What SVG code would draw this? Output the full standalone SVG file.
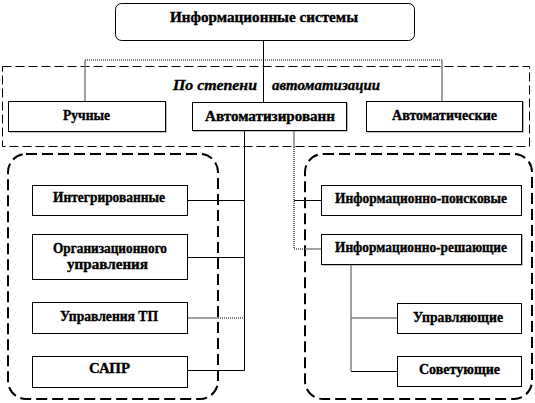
<svg xmlns="http://www.w3.org/2000/svg" width="535" height="403" viewBox="0 0 535 403">
<style>
  .t { font-family: "Liberation Serif", "DejaVu Serif", serif; font-weight: bold; font-size: 14px; fill: #000; stroke: #000; stroke-width: 0.35; }
  .ti { font-style: italic; }
  .box { fill: #fff; stroke: #000; stroke-width: 1; }
  .sh { fill: none; stroke: #888; stroke-width: 1.2; }
  .ln { fill: none; stroke: #000; stroke-width: 1; }
  .gl { fill: none; stroke: #808080; stroke-width: 1.5; }
  .dl { fill: none; stroke: #000; stroke-width: 1.2; stroke-dasharray: 1 1; }
  .grp { fill: none; stroke: #000; stroke-width: 1; stroke-dasharray: 9 4; }
  .rgrp { fill: none; stroke: #000; stroke-width: 2; stroke-dasharray: 11 5; }
</style>
<rect width="535" height="403" fill="#fff"/>

<g id="groups">
  <rect x="2.5" y="66.5" width="527" height="80" class="grp"/>
  <rect x="8" y="154" width="210" height="245" rx="18" class="rgrp"/>
  <rect x="305" y="154" width="227" height="245" rx="18" class="rgrp"/>
  <text class="t ti" x="173" y="90" textLength="84" lengthAdjust="spacingAndGlyphs">По степени</text>
  <text class="t ti" x="272" y="90" textLength="108" lengthAdjust="spacingAndGlyphs">автоматизации</text>
</g>

<g id="connectors">
  <line x1="263.5" y1="40" x2="263.5" y2="102" class="ln"/>
  <line x1="85" y1="60" x2="442" y2="60" class="dl"/>
  <line x1="85" y1="60" x2="85" y2="101" class="gl"/>
  <line x1="442" y1="60" x2="442" y2="102" class="gl"/>
  <line x1="244.5" y1="130" x2="244.5" y2="370.5" class="ln"/>
  <line x1="187" y1="200.5" x2="244.5" y2="200.5" class="ln"/>
  <line x1="187" y1="257.5" x2="244.5" y2="257.5" class="ln"/>
  <line x1="187" y1="318" x2="218" y2="318" class="gl"/>
  <line x1="218" y1="318" x2="244.5" y2="318" class="dl"/>
  <line x1="187" y1="370.5" x2="244.5" y2="370.5" class="ln"/>
  <line x1="294" y1="130" x2="294" y2="147" class="gl"/>
  <line x1="294" y1="147" x2="294" y2="249" class="dl"/>
  <line x1="294" y1="249" x2="305" y2="249" class="dl"/>
  <line x1="305" y1="249" x2="321" y2="249" class="gl"/>
  <line x1="294" y1="200.5" x2="321" y2="200.5" class="ln"/>
  <line x1="351" y1="264" x2="351" y2="371" class="gl"/>
  <line x1="351" y1="318" x2="397" y2="318" class="gl"/>
  <line x1="351" y1="371.5" x2="397" y2="371.5" class="ln"/>
</g>

<g id="n-root">
  <rect x="115.5" y="3.5" width="299" height="37" rx="6" class="box"/>
  <text class="t" x="170" y="22" textLength="188" lengthAdjust="spacingAndGlyphs">Информационные системы</text>
</g>

<g id="n-manual">
  <path d="M9 132 H166 V102" class="sh"/>
  <rect x="8.5" y="101.5" width="157" height="30" class="box"/>
  <text class="t" x="63" y="120" textLength="47" lengthAdjust="spacingAndGlyphs">Ручные</text>
</g>

<g id="n-automated">
  <path d="M193 131 H347 V103" class="sh"/>
  <rect x="192.5" y="102.5" width="154" height="28" class="box"/>
  <text class="t" x="205" y="121" textLength="130" lengthAdjust="spacingAndGlyphs">Автоматизированн</text>
</g>

<g id="n-automatic">
  <path d="M367 132 H523 V102" class="sh"/>
  <rect x="366.5" y="101.5" width="156" height="30" class="box"/>
  <text class="t" x="392" y="120" textLength="105" lengthAdjust="spacingAndGlyphs">Автоматические</text>
</g>

<g id="n-integrated">
  <rect x="32.5" y="185.5" width="155" height="30" class="box"/>
  <text class="t" x="53" y="202" textLength="112" lengthAdjust="spacingAndGlyphs">Интегрированные</text>
</g>

<g id="n-org">
  <rect x="32.5" y="234.5" width="155" height="45" class="box"/>
  <text class="t" x="53" y="253" textLength="114" lengthAdjust="spacingAndGlyphs">Организационного</text>
  <text class="t" x="67" y="269" textLength="81" lengthAdjust="spacingAndGlyphs">управления</text>
</g>

<g id="n-tp">
  <rect x="32.5" y="302.5" width="155" height="31" class="box"/>
  <text class="t" x="60" y="321" textLength="98" lengthAdjust="spacingAndGlyphs">Управления ТП</text>
</g>

<g id="n-sapr">
  <rect x="32.5" y="356.5" width="155" height="31" class="box"/>
  <text class="t" x="89" y="373" textLength="41" lengthAdjust="spacingAndGlyphs">САПР</text>
</g>

<g id="n-search">
  <rect x="321.5" y="185.5" width="200" height="30" class="box"/>
  <text class="t" x="335" y="203" textLength="172" lengthAdjust="spacingAndGlyphs">Информационно-поисковые</text>
</g>

<g id="n-decision">
  <path d="M322 265 H522 V235" class="sh"/>
  <rect x="321.5" y="234.5" width="200" height="30" class="box"/>
  <text class="t" x="335" y="252" textLength="172" lengthAdjust="spacingAndGlyphs">Информационно-решающие</text>
</g>

<g id="n-control">
  <rect x="397.5" y="303.5" width="124" height="30" class="box"/>
  <text class="t" x="413" y="322" textLength="90" lengthAdjust="spacingAndGlyphs">Управляющие</text>
</g>

<g id="n-advise">
  <rect x="397.5" y="356.5" width="124" height="30" class="box"/>
  <text class="t" x="419" y="374" textLength="81" lengthAdjust="spacingAndGlyphs">Советующие</text>
</g>
</svg>
